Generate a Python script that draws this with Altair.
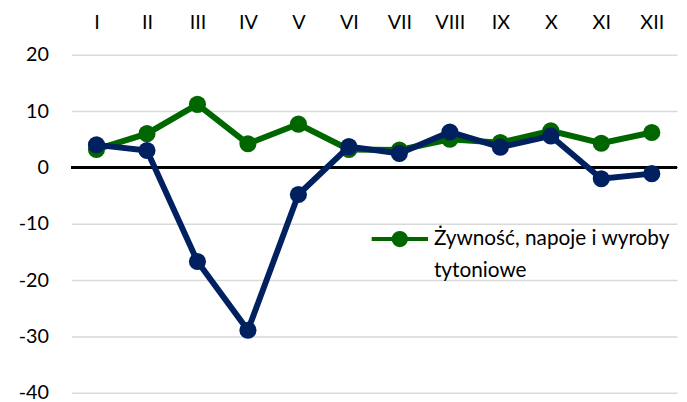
import altair as alt
import pandas as pd

months = ["I", "II", "III", "IV", "V", "VI", "VII", "VIII", "IX", "X", "XI", "XII"]
green_name = "Żywność, napoje i wyroby tytoniowe"
blue_name = "Ogółem"
green_vals = [3.2, 6.0, 11.2, 4.2, 7.7, 3.2, 3.1, 5.0, 4.4, 6.5, 4.3, 6.2]
blue_vals = [4.0, 3.0, -16.7, -28.9, -4.8, 3.7, 2.5, 6.3, 3.6, 5.6, -2.0, -1.1]
y_ticks = [-40, -30, -20, -10, 0, 10, 20]

GREEN = "#006600"
BLUE = "#002060"
FONT = "Lato"
FS = 20

df = pd.DataFrame({
    "month": months * 2,
    "value": green_vals + blue_vals,
    "series": [green_name] * 12 + [blue_name] * 12,
})

x = alt.X(
    "month:N", sort=months,
    scale=alt.Scale(type="point", domain=months, padding=0.5),
    axis=alt.Axis(orient="top", title=None, domain=False, ticks=False, labelAngle=0,
                  labelPadding=23, labelFontSize=FS, labelFont=FONT, labelColor="#000000",
                  grid=False),
)
y = alt.Y(
    "value:Q",
    scale=alt.Scale(domain=[-40, 20], nice=False, zero=False),
    axis=alt.Axis(values=y_ticks, title=None, domain=False, ticks=False, labelPadding=23,
                  grid=True, gridColor="#d9d9d9", gridWidth=1.5, labelFontSize=FS,
                  labelFont=FONT, labelColor="#000000", labelExpr="datum.value + ''"),
)

sym_path = "M-1,0H1M-0.22,0A0.22,0.22,0,1,0,0.22,0A0.22,0.22,0,1,0,-0.22,0Z"

legend = alt.Legend(
    orient="none", legendX=302, legendY=156, title=None, values=[green_name],
    symbolType=sym_path, symbolSize=3249, symbolStrokeWidth=4,
    symbolFillColor=GREEN, symbolStrokeColor=GREEN,
    labelFontSize=21, labelFont=FONT, labelColor="#000000", labelLimit=400, labelOffset=4,
    padding=0,
    labelExpr="datum.label == '" + green_name + "' ? ['Żywność, napoje i wyroby', 'tytoniowe'] : datum.label",
)

color = alt.Color(
    "series:N",
    scale=alt.Scale(domain=[green_name, blue_name], range=[GREEN, BLUE]),
    legend=legend,
)

base = alt.Chart(df)

zero = base.mark_rule(color="black", strokeWidth=2.5).encode(y=alt.datum(0))

def series_layer(name):
    return base.transform_filter(alt.datum.series == name).mark_line(
        strokeWidth=6,
        point=alt.OverlayMarkDef(filled=True, size=300, opacity=1),
    ).encode(x=x, y=y, color=color)

chart = alt.layer(
    zero, series_layer(green_name), series_layer(blue_name)
).properties(
    width=613, height=342,
    autosize=alt.AutoSizeParams(type="none"),
    padding={"left": 64, "top": 45, "right": 2, "bottom": 7},
).configure_view(stroke=None)

# add label line spacing to the legend (hidden Vega-Lite legend "encoding" property)
_orig_to_dict = chart.to_dict

def _patch(obj):
    if isinstance(obj, dict):
        if "legendX" in obj:
            obj["encoding"] = {"labels": {"lineHeight": {"value": 32}}}
        for v in obj.values():
            _patch(v)
    elif isinstance(obj, list):
        for v in obj:
            _patch(v)

def _patched_to_dict(*args, **kwargs):
    d = _orig_to_dict(*args, **kwargs)
    _patch(d)
    return d

object.__setattr__(chart, "to_dict", _patched_to_dict)

chart.save("out.html", embed_options={"renderer": "svg", "actions": False})
